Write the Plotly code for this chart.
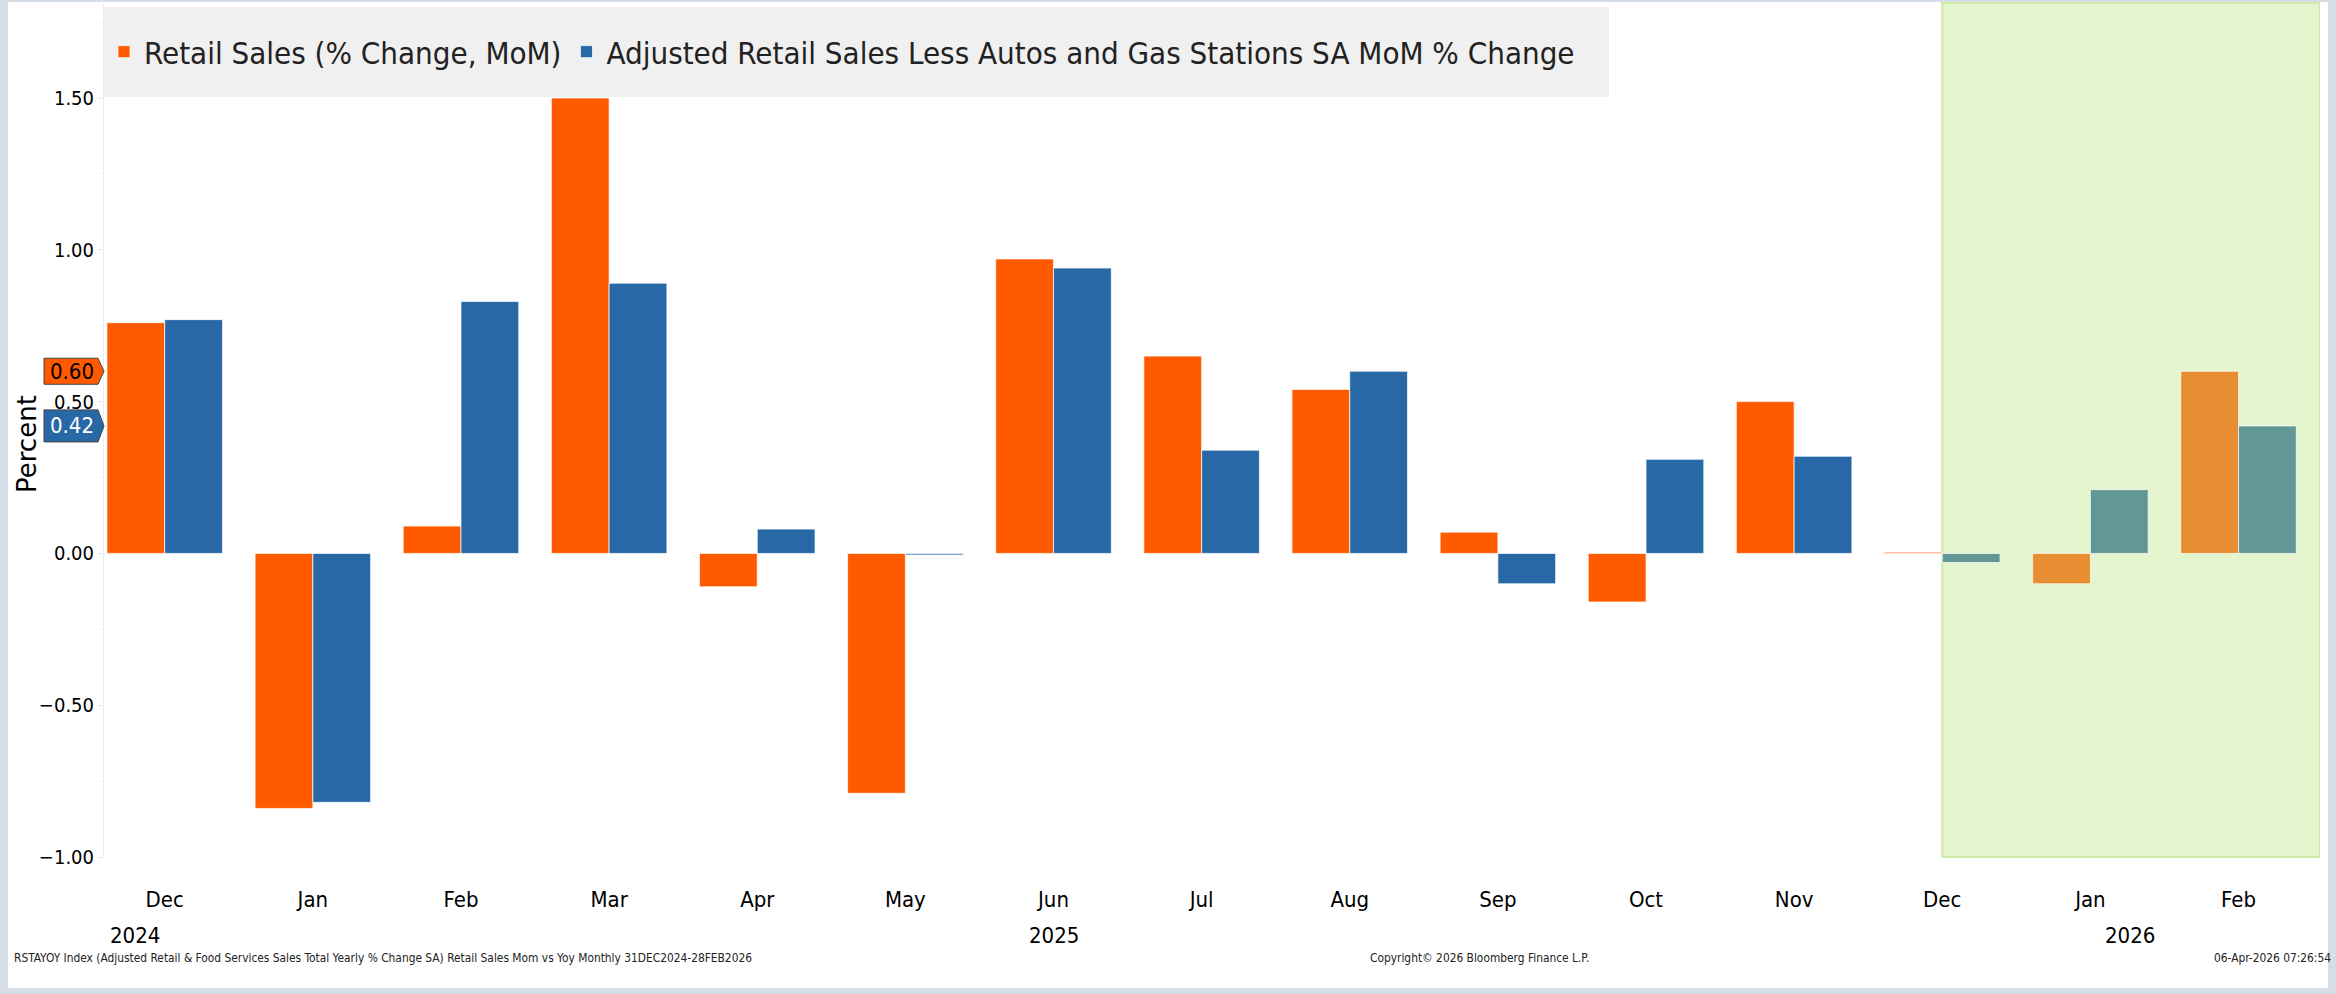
import plotly.graph_objects as go

# ---------------- data ----------------
months = ["Dec", "Jan", "Feb", "Mar", "Apr", "May", "Jun", "Jul", "Aug", "Sep",
          "Oct", "Nov", "Dec", "Jan", "Feb"]
retail_sales_mom = [0.76, -0.84, 0.09, 1.50, -0.11, -0.79, 0.97, 0.65, 0.54, 0.07,
                    -0.16, 0.50, 0.004, -0.10, 0.60]
adj_retail_less_autos_gas = [0.77, -0.82, 0.83, 0.89, 0.08, -0.005, 0.94, 0.34, 0.60, -0.10,
                             0.31, 0.32, -0.03, 0.21, 0.42]
year_labels = ["2024", "2025", "2026"]
year_label_pos = [-0.2, 6.0, 13.27]
last_values = [0.60, 0.42]
series_names = ["Retail Sales (% Change, MoM)",
                "Adjusted Retail Sales Less Autos and Gas Stations SA MoM % Change"]
footer_left = ("RSTAYOY Index (Adjusted Retail & Food Services Sales Total Yearly % Change SA) "
               "Retail Sales Mom vs Yoy Monthly 31DEC2024-28FEB2026")
footer_mid = "Copyright\u00a9 2026 Bloomberg Finance L.P."
footer_right = "06-Apr-2026 07:26:54"
shade_start = 12  # index of highlighted period start

# ---------------- style ----------------
W, H = 2336, 994
L, R, T, B = 104, 16, 3, 137
PW = W - L - R
PH = H - T - B
ORANGE, BLUE = "#FF5A00", "#2868A6"
ORANGE_HL, BLUE_HL = "#E68E31", "#619896"
COND = "DejaVu Sans Condensed, Liberation Sans Narrow, DejaVu Sans, sans-serif"
REG = "DejaVu Sans, Verdana, sans-serif"
bargap = 0.22


def px_x(p):
    return (p - L) / PW


def px_y(p):
    return (H - B - p) / PH


x = list(range(len(months)))
half = (1 - bargap) / 4
col_o = [ORANGE_HL if i - half >= shade_start else ORANGE for i in x]
col_b = [BLUE_HL if i + half >= shade_start else BLUE for i in x]

fig = go.Figure()
fig.add_trace(go.Bar(x=x, y=retail_sales_mom, name=series_names[0],
                     marker=dict(color=col_o, line=dict(color="rgba(255,255,255,0.7)", width=1))))
fig.add_trace(go.Bar(x=x, y=adj_retail_less_autos_gas, name=series_names[1],
                     marker=dict(color=col_b, line=dict(color="rgba(255,255,255,0.7)", width=1))))

shapes = [
    # white page frame
    dict(type="rect", xref="paper", yref="paper", x0=px_x(8), x1=px_x(2328),
         y0=px_y(988), y1=px_y(2), fillcolor="white", line=dict(width=0), layer="below"),
    # highlighted forecast region
    dict(type="rect", xref="x", yref="paper", x0=shade_start, x1=14.55, y0=0, y1=1,
         fillcolor="#E5F5CD", line=dict(color="#CFEAA8", width=2), layer="below"),
    # legend box
    dict(type="rect", xref="paper", yref="paper", x0=0, x1=px_x(1609),
         y0=px_y(97), y1=px_y(7), fillcolor="#F0F0F0", line=dict(width=0), layer="below"),
]

annotations = []
# last value tags
tag_specs = [(last_values[0], ORANGE, "black", 13), (last_values[1], BLUE, "white", 16)]
for val, bg, fg, hh in tag_specs:
    shapes.append(dict(type="path", xref="paper", yref="y", xsizemode="pixel", ysizemode="pixel",
                       xanchor=0, yanchor=val,
                       path=f"M -60,{-hh} L -6,{-hh} L 0,0 L -6,{hh} L -60,{hh} Z",
                       fillcolor=bg, line=dict(color="#444", width=1), layer="above"))
    annotations.append(dict(xref="paper", yref="y", x=0, y=val, xshift=-8, xanchor="right",
                            yanchor="middle", text=f"{val:.2f}", showarrow=False,
                            font=dict(family=COND, size=22, color=fg)))

for yl, xp in zip(year_labels, year_label_pos):
    annotations.append(dict(xref="x", yref="paper", x=xp, y=px_y(935), text=yl, showarrow=False,
                            xanchor="center", yanchor="middle",
                            font=dict(family=COND, size=22, color="black")))

annotations += [
    dict(xref="paper", yref="paper", x=px_x(27), y=px_y(444), text="Percent", textangle=-90,
         showarrow=False, xanchor="center", yanchor="middle",
         font=dict(family=REG, size=26, color="black")),
    dict(xref="paper", yref="paper", x=px_x(12), y=px_y(958), text=footer_left, showarrow=False,
         xanchor="left", yanchor="middle", font=dict(family=COND, size=11.85, color="#222")),
    dict(xref="paper", yref="paper", x=px_x(1479), y=px_y(958), text=footer_mid, showarrow=False,
         xanchor="center", yanchor="middle", font=dict(family=COND, size=11.85, color="#222")),
    dict(xref="paper", yref="paper", x=px_x(2212), y=px_y(958), text=footer_right, showarrow=False,
         xanchor="left", yanchor="middle", font=dict(family=COND, size=11.85, color="#222")),
]

fig.update_layout(
    width=W, height=H,
    margin=dict(l=L, r=R, t=T, b=B, pad=0),
    paper_bgcolor="#D5DEE7", plot_bgcolor="white",
    barmode="group", bargap=bargap, bargroupgap=0.0,
    showlegend=True,
    legend=dict(orientation="h", x=0, xanchor="left", y=px_y(52), yanchor="middle",
                bgcolor="rgba(0,0,0,0)", font=dict(family=COND, size=31, color="#222"),
                itemclick=False),
    shapes=shapes, annotations=annotations,
    xaxis=dict(range=[-0.41, 14.55], tickvals=x, ticktext=months, showgrid=False,
               zeroline=False, showline=False, ticks="", ticklabelstandoff=27,
               tickfont=dict(family=COND, size=22, color="black")),
    yaxis=dict(range=[-1.0, 1.813], tickvals=[-1.0, -0.5, 0.0, 0.5, 1.0, 1.5], tickformat=".2f",
               showgrid=False, zeroline=False, showline=True, linecolor="#ECECF6", linewidth=1,
               ticks="outside", ticklen=5, tickcolor="#E6E6F2",
               minor=dict(dtick=0.25, ticks="outside", ticklen=3, tickcolor="#ECECF6"),
               tickfont=dict(family=COND, size=20, color="black")),
)

fig.write_html("out.html", config={"displayModeBar": False},
               post_script="document.body.style.margin='0px';document.body.style.overflow='hidden';")
